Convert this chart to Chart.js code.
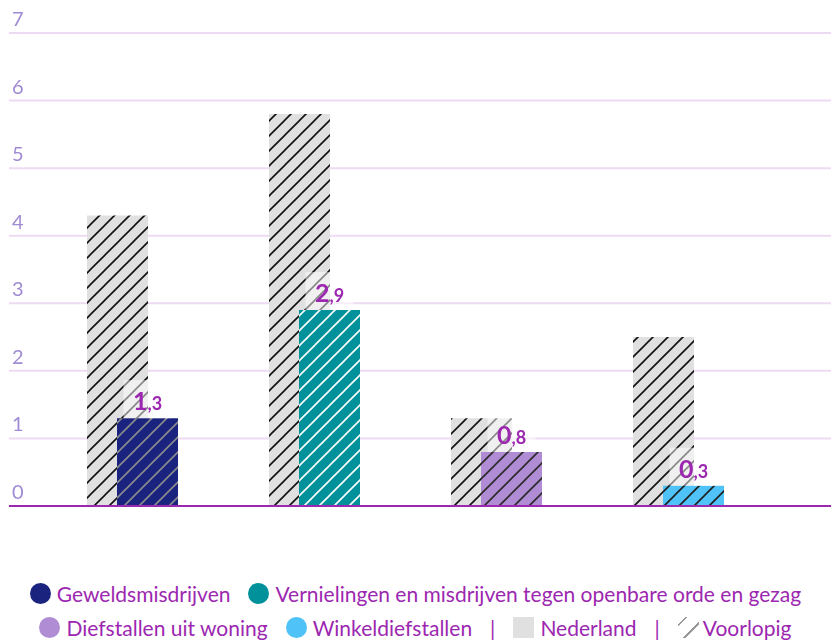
<!DOCTYPE html>
<html>
<head>
<meta charset="utf-8">
<script src="https://cdn.jsdelivr.net/npm/chart.js@4.4.1/dist/chart.umd.min.js"></script>
<style>
  body { margin: 0; background: #fff; font-family: Lato, "Open Sans", sans-serif; }
  #wrap { position: relative; width: 831px; height: 576px; }
  #legend { width: 831px; color: #9c27b0; font-size: 21px; }
  .row { display: flex; justify-content: center; align-items: center; height: 34px; }
  .item { display: flex; align-items: center; margin: 0 9px; white-space: nowrap; }
  .dot { width: 21px; height: 21px; border-radius: 50%; margin-right: 6px; }
  .sq { width: 21px; height: 21px; background: #e0e0e0; margin-right: 6px; }
  .hatch { width: 21px; height: 21px; margin-right: 4px;
    background: repeating-linear-gradient(135deg, #fff 0 5px, #999 5px 7px, #fff 7px 13px); }
  .sep { margin: 0 9px; }
</style>
</head>
<body>
<div id="wrap"><canvas id="chart"></canvas></div>
<div id="legend"></div>
<script>
// ---------- data ----------
const categories = ['Geweldsmisdrijven', 'Vernielingen en misdrijven tegen openbare orde en gezag', 'Diefstallen uit woning', 'Winkeldiefstallen'];
const nederland = [4.3, 5.8, 1.3, 2.5];
const regio = [1.3, 2.9, 0.8, 0.3];
const yTicks = [0, 1, 2, 3, 4, 5, 6, 7];

// ---------- styles ----------
const regioColors = ['#1a237e', '#00919a', '#b08cd4', '#4fc3f7'];
const hatchColors = ['#8c8c8c', '#ffffff', '#2a2a2a', '#1e1e1e'];
const purple = '#9c27b0';

function hatch(bg, line) {
    const s = 15;
    const c = document.createElement('canvas');
    c.width = s; c.height = s;
    const x = c.getContext('2d');
    x.fillStyle = bg;
    x.fillRect(0, 0, s, s);
    x.strokeStyle = line;
    x.lineWidth = 1.6;
    x.beginPath();
    x.moveTo(-2, s + 2); x.lineTo(s + 2, -2);
    x.moveTo(-2, 2); x.lineTo(2, -2);
    x.moveTo(s - 2, s + 2); x.lineTo(s + 2, s - 2);
    x.stroke();
    return x.createPattern(c, 'repeat');
}

// ---------- grid, ticks, labels, draw order ----------
const decorations = {
    id: 'decorations',
    beforeDatasetsDraw(chart) {
        const { ctx, scales: { y } } = chart;
        ctx.save();
        ctx.font = '20px Lato';
        ctx.textBaseline = 'alphabetic';
        yTicks.forEach(t => {
            const py = y.getPixelForValue(t);
            if (t > 0) {
                ctx.strokeStyle = '#efdaf3';
                ctx.lineWidth = 2;
                ctx.beginPath();
                ctx.moveTo(9, py); ctx.lineTo(chart.width, py);
                ctx.stroke();
            }
            ctx.fillStyle = '#a08bd3';
            ctx.fillText(String(t), 12, py - 7);
        });
        ctx.restore();
        // Nederland bars go underneath the regional bars
        chart.getDatasetMeta(0).controller.draw();
    },
    beforeDatasetDraw(chart, args) {
        if (args.index === 0) return false;
    },
    afterDatasetsDraw(chart) {
        const { ctx, scales: { y } } = chart;
        ctx.save();
        const y0 = y.getPixelForValue(0);
        ctx.strokeStyle = purple;
        ctx.lineWidth = 2;
        ctx.beginPath();
        ctx.moveTo(9, y0); ctx.lineTo(chart.width, y0);
        ctx.stroke();

        chart.getDatasetMeta(1).data.forEach((bar, i) => {
            const parts = regio[i].toFixed(1).split('.');
            const big = parts[0], small = ',' + parts[1];
            ctx.fillStyle = 'rgba(255,255,255,0.5)';
            ctx.fillRect(bar.x - 24, bar.y - 38, 48, 38);
            ctx.font = 'bold 25px Lato';
            const wb = ctx.measureText(big).width;
            ctx.font = 'bold 18px Lato';
            const ws = ctx.measureText(small).width;
            const sx = bar.x - (wb + ws) / 2;
            ctx.fillStyle = purple;
            ctx.font = 'bold 25px Lato';
            ctx.fillText(big, sx, bar.y - 8);
            ctx.font = 'bold 18px Lato';
            ctx.fillText(small, sx + wb, bar.y - 8);
        });
        ctx.restore();
    }
};

new Chart(document.getElementById('chart'), {
    type: 'bar',
    data: {
        labels: categories,
        datasets: [{
            label: 'Nederland',
            data: nederland,
            backgroundColor: hatch('#e0e0e0', '#111111')
        }, {
            label: 'Regio',
            data: regio,
            backgroundColor: regioColors.map((c, i) => hatch(c, hatchColors[i]))
        }]
    },
    options: {
        responsive: true,
        maintainAspectRatio: false,
        animation: false,
        layout: { padding: { left: 41.5, right: 61.5, top: 33, bottom: 70 } },
        datasets: { bar: { categoryPercentage: 60 / 182, barPercentage: 61 / 30 } },
        plugins: { legend: { display: false }, tooltip: { enabled: false } },
        scales: {
            x: { display: false },
            y: { display: false, min: 0, max: 7 }
        }
    },
    plugins: [decorations]
});

// ---------- legend ----------
const legend = document.getElementById('legend');
const row1 = document.createElement('div');
const row2 = document.createElement('div');
row1.className = row2.className = 'row';
categories.forEach((c, i) => {
    const it = document.createElement('span');
    it.className = 'item';
    it.innerHTML = '<span class="dot" style="background:' + regioColors[i] + '"></span>' + c;
    (i < 2 ? row1 : row2).appendChild(it);
});
row2.insertAdjacentHTML('beforeend',
    '<span class="sep">|</span><span class="item"><span class="sq"></span>Nederland</span>' +
    '<span class="sep">|</span><span class="item"><span class="hatch"></span>Voorlopig</span>');
legend.appendChild(row1);
legend.appendChild(row2);
</script>
</body>
</html>
